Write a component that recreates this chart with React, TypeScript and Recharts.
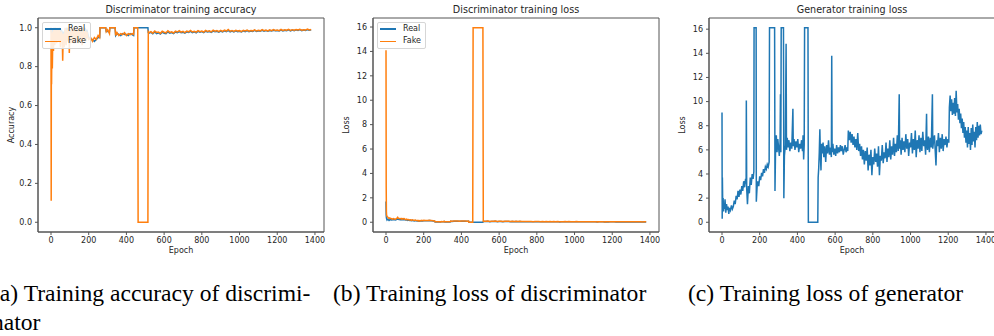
import React from 'react';
import { LineChart, Line, XAxis, YAxis, Legend, ReferenceArea } from 'recharts';

// ---- discriminator data (shared epochs for accuracy + loss) ----
const DISC_EPOCHS = [
  0, 1, 2, 3, 5, 7, 10, 13, 16, 20,
  25, 30, 35, 40, 45, 50, 55, 60, 62, 65,
  70, 75, 80, 85, 90, 95, 97, 100, 105, 110,
  115, 120, 125, 130, 135, 140, 145, 150, 155, 160,
  165, 170, 175, 180, 185, 190, 195, 200, 210, 220,
  230, 240, 250, 258, 260, 270, 280, 290, 293, 300,
  310, 312, 320, 330, 340, 343, 350, 360, 370, 380,
  390, 400, 410, 420, 430, 438, 440, 450, 460, 462,
  470, 480, 490, 500, 510, 514, 516,
  520, 530, 540, 550, 560, 570, 580, 590, 600, 610,
  620, 630, 640, 650, 660, 670, 680, 690, 700, 710,
  720, 730, 740, 750, 760, 770, 780, 790, 800, 810,
  820, 830, 840, 850, 860, 870, 880, 890, 900, 910,
  920, 930, 940, 950, 960, 970, 980, 990, 1000, 1010,
  1020, 1030, 1040, 1050, 1060, 1070, 1080, 1090, 1100, 1110,
  1120, 1130, 1140, 1150, 1160, 1170, 1180, 1190, 1200, 1210,
  1220, 1230, 1240, 1250, 1260, 1270, 1280, 1290, 1300, 1310,
  1320, 1330, 1340, 1350, 1360, 1370, 1380,
];

const ACC_FAKE = [
  1.0, 0.11, 0.95, 0.71, 0.97, 0.79, 0.98, 0.88, 1.0, 0.91,
  0.99, 0.92, 1.0, 0.93, 0.99, 0.9, 0.98, 0.93, 0.83, 0.97,
  0.9, 1.0, 0.91, 0.99, 0.93, 1.0, 0.87, 0.98, 0.92, 1.0,
  0.93, 0.99, 0.92, 1.0, 0.94, 0.99, 0.92, 1.0, 0.93, 0.98,
  0.91, 1.0, 0.94, 0.99, 0.93, 0.98, 0.95, 0.94, 0.95, 0.93,
  0.95, 0.94, 0.96, 0.95, 1.0, 1.0, 1.0, 1.0, 0.98, 0.99,
  0.97, 1.0, 1.0, 1.0, 1.0, 0.96, 0.975, 0.96, 0.97, 0.965,
  0.975, 0.96, 0.97, 0.965, 0.97, 0.965, 1.0, 1.0, 1.0, 0.0,
  0.0, 0.0, 0.0, 0.0, 0.0, 0.0, 0.98,
  0.975, 0.98, 0.972, 0.983, 0.976, 0.978, 0.971, 0.982, 0.977, 0.974,
  0.984, 0.976, 0.979, 0.973, 0.982, 0.978, 0.985, 0.977, 0.981, 0.975,
  0.983, 0.979, 0.986, 0.978, 0.982, 0.977, 0.985, 0.98, 0.983, 0.978,
  0.986, 0.981, 0.984, 0.979, 0.987, 0.982, 0.985, 0.98, 0.986, 0.981,
  0.988, 0.983, 0.991, 0.982, 0.986, 0.981, 0.987, 0.983, 0.985, 0.98,
  0.987, 0.983, 0.988, 0.982, 0.986, 0.984, 0.989, 0.983, 0.987, 0.984,
  0.99, 0.985, 0.988, 0.984, 0.989, 0.985, 0.99, 0.986, 0.988, 0.985,
  0.991, 0.986, 0.989, 0.987, 0.992, 0.986, 0.99, 0.987, 0.991, 0.988,
  0.992, 0.987, 0.99, 0.988, 0.993, 0.989, 0.991,
];

const ACC_REAL = [
  1.0, 0.98, 0.99, 0.97, 0.99, 0.95, 0.99, 0.96, 1.0, 0.97,
  1.0, 0.96, 0.99, 0.97, 1.0, 0.96, 0.99, 0.97, 0.95, 0.98,
  0.96, 0.99, 0.97, 1.0, 0.96, 0.99, 0.95, 0.99, 0.97, 1.0,
  0.97, 0.99, 0.96, 0.99, 0.97, 1.0, 0.96, 0.99, 0.97, 0.99,
  0.96, 0.99, 0.97, 1.0, 0.96, 0.99, 0.97, 0.95, 0.94, 0.94,
  0.93, 0.94, 0.95, 0.95, 1.0, 1.0, 1.0, 1.0, 0.98, 0.98,
  0.98, 1.0, 1.0, 1.0, 1.0, 0.96, 0.97, 0.965, 0.96, 0.97,
  0.965, 0.965, 0.96, 0.97, 0.965, 0.96, 1.0, 1.0, 1.0, 1.0,
  1.0, 1.0, 1.0, 1.0, 1.0, 1.0, 0.975,
  0.972, 0.976, 0.969, 0.978, 0.97, 0.974, 0.968, 0.977, 0.972, 0.97,
  0.979, 0.972, 0.975, 0.97, 0.978, 0.974, 0.98, 0.974, 0.977, 0.972,
  0.979, 0.976, 0.981, 0.975, 0.979, 0.974, 0.981, 0.977, 0.98, 0.975,
  0.982, 0.978, 0.981, 0.976, 0.983, 0.979, 0.982, 0.977, 0.983, 0.978,
  0.984, 0.98, 0.986, 0.979, 0.983, 0.979, 0.984, 0.98, 0.982, 0.978,
  0.984, 0.98, 0.985, 0.98, 0.983, 0.981, 0.986, 0.981, 0.984, 0.982,
  0.987, 0.982, 0.985, 0.982, 0.986, 0.983, 0.987, 0.984, 0.986, 0.983,
  0.988, 0.984, 0.987, 0.985, 0.989, 0.984, 0.988, 0.985, 0.989, 0.986,
  0.99, 0.985, 0.988, 0.986, 0.99, 0.987, 0.989,
];

const LOSS_FAKE = [
  14.1, 3.0, 0.9, 0.6, 0.5, 0.45, 0.4, 0.35, 0.3, 0.35,
  0.3, 0.28, 0.25, 0.3, 0.27, 0.25, 0.3, 0.35, 0.4, 0.33,
  0.3, 0.28, 0.32, 0.25, 0.3, 0.28, 0.3, 0.26, 0.22, 0.25,
  0.2, 0.22, 0.18, 0.2, 0.15, 0.2, 0.17, 0.14, 0.18, 0.15,
  0.12, 0.16, 0.1, 0.14, 0.12, 0.15, 0.13, 0.16, 0.14, 0.15,
  0.16, 0.14, 0.12, 0.1, 0.03, 0.03, 0.04, 0.03, 0.06, 0.05,
  0.07, 0.03, 0.03, 0.03, 0.03, 0.1, 0.09, 0.11, 0.1, 0.11,
  0.09, 0.1, 0.11, 0.1, 0.09, 0.1, 0.0, 0.0, 0.0, 15.95,
  15.95, 15.95, 15.95, 15.95, 15.95, 15.95, 0.08,
  0.09, 0.08, 0.1, 0.07, 0.09, 0.08, 0.1, 0.07, 0.08, 0.09,
  0.07, 0.08, 0.09, 0.08, 0.07, 0.08, 0.06, 0.08, 0.07, 0.08,
  0.06, 0.07, 0.06, 0.07, 0.06, 0.07, 0.05, 0.06, 0.06, 0.07,
  0.05, 0.06, 0.05, 0.06, 0.05, 0.06, 0.05, 0.06, 0.05, 0.06,
  0.04, 0.05, 0.04, 0.06, 0.05, 0.06, 0.04, 0.05, 0.05, 0.06,
  0.04, 0.05, 0.04, 0.05, 0.05, 0.04, 0.04, 0.05, 0.04, 0.05,
  0.03, 0.04, 0.04, 0.05, 0.03, 0.04, 0.03, 0.04, 0.04, 0.04,
  0.03, 0.04, 0.03, 0.04, 0.03, 0.04, 0.03, 0.03, 0.03, 0.04,
  0.03, 0.03, 0.03, 0.03, 0.02, 0.03, 0.03,
];

const LOSS_REAL = [
  1.7, 0.6, 0.4, 0.3, 0.2, 0.25, 0.2, 0.2, 0.15, 0.2,
  0.2, 0.18, 0.2, 0.22, 0.2, 0.18, 0.22, 0.25, 0.28, 0.24,
  0.22, 0.2, 0.23, 0.2, 0.22, 0.2, 0.22, 0.2, 0.18, 0.2,
  0.15, 0.18, 0.14, 0.16, 0.12, 0.15, 0.13, 0.1, 0.14, 0.12,
  0.1, 0.12, 0.08, 0.1, 0.1, 0.12, 0.1, 0.12, 0.12, 0.13,
  0.14, 0.12, 0.1, 0.08, 0.02, 0.02, 0.02, 0.02, 0.04, 0.04,
  0.05, 0.02, 0.02, 0.02, 0.02, 0.08, 0.07, 0.09, 0.08, 0.09,
  0.08, 0.08, 0.09, 0.08, 0.08, 0.08, 0.0, 0.0, 0.0, 0.0,
  0.0, 0.0, 0.0, 0.0, 0.0, 0.0, 0.06,
  0.07, 0.06, 0.08, 0.05, 0.07, 0.06, 0.08, 0.05, 0.06, 0.07,
  0.05, 0.06, 0.07, 0.06, 0.05, 0.06, 0.05, 0.06, 0.05, 0.06,
  0.05, 0.05, 0.04, 0.05, 0.05, 0.05, 0.04, 0.05, 0.04, 0.05,
  0.04, 0.05, 0.04, 0.04, 0.04, 0.05, 0.04, 0.04, 0.04, 0.05,
  0.03, 0.04, 0.03, 0.04, 0.04, 0.04, 0.03, 0.04, 0.04, 0.04,
  0.03, 0.04, 0.03, 0.04, 0.04, 0.03, 0.03, 0.04, 0.03, 0.04,
  0.02, 0.03, 0.03, 0.04, 0.02, 0.03, 0.02, 0.03, 0.03, 0.03,
  0.02, 0.03, 0.02, 0.03, 0.02, 0.03, 0.02, 0.02, 0.02, 0.03,
  0.02, 0.02, 0.02, 0.02, 0.02, 0.02, 0.02,
];

// ---- generator data ----
const GEN_EPOCHS = [
  0, 1, 2, 4, 6, 8, 10, 13, 16, 20,
  24, 28, 32, 36, 40, 45, 50, 55, 60, 65,
  70, 75, 80, 85, 90, 95, 100, 105, 110, 115,
  120, 125, 128, 129, 131, 135, 140, 145, 150, 155,
  160, 165, 169, 170, 181, 182, 186, 190, 195, 200,
  205, 210, 215, 220, 225, 230, 235, 240, 245, 250,
  252, 279, 281, 284, 288, 292, 296, 300, 304, 308,
  310, 312, 314, 326, 328, 331, 336, 340, 342, 346,
  350, 355, 360, 365, 370, 376, 378, 382, 387, 392,
  397, 402, 407, 412, 417, 422, 427, 430, 433, 436,
  438, 456, 458, 508, 510, 513, 516, 519, 522, 525,
  528, 532, 536, 540, 545, 550, 555, 560, 565, 570,
  575, 580, 582, 584, 588, 593, 598, 603, 608, 613,
  618, 623, 628, 633, 638, 643, 648, 653, 658, 663,
  667, 670, 675, 680, 685, 690, 695, 700, 705, 710,
  715, 720, 725, 730, 735, 740, 745, 750, 755, 760,
  765, 770, 775, 780, 785, 790, 795, 800, 805, 810,
  815, 820, 825, 830, 835, 840, 845, 850, 855, 860,
  865, 870, 875, 880, 885, 890, 895, 900, 905, 910,
  915, 920, 925, 930, 935, 940, 942, 946, 950, 955,
  960, 965, 970, 975, 980, 985, 990, 995, 1000, 1005,
  1010, 1015, 1020, 1025, 1030, 1035, 1040, 1045, 1050, 1055,
  1060, 1065, 1070, 1075, 1080, 1085, 1087, 1090, 1095, 1100,
  1105, 1110, 1116, 1118, 1123, 1127, 1131, 1135, 1139, 1143,
  1148, 1153, 1158, 1163, 1168, 1173, 1178, 1183, 1188, 1193,
  1198, 1203, 1206, 1210, 1214, 1218, 1222, 1226, 1230, 1234,
  1238, 1242, 1246, 1250, 1254, 1258, 1262, 1266, 1270, 1274,
  1278, 1282, 1286, 1290, 1294, 1298, 1302, 1306, 1310, 1314,
  1318, 1322, 1326, 1330, 1334, 1338, 1342, 1346, 1350, 1354,
  1358, 1362, 1366, 1370, 1374, 1378,
];

const GEN_LOSS = [
  9.1, 0.3, 3.7, 1.2, 2.0, 0.9, 1.6, 1.1, 1.9, 0.8,
  1.5, 1.0, 1.3, 0.7, 1.2, 1.0, 1.4, 1.1, 1.3, 1.8,
  1.5, 2.2, 1.9, 2.6, 2.1, 2.7, 2.3, 3.0, 2.6, 3.4,
  2.9, 3.6, 3.2, 10.1, 2.8, 1.5, 3.0, 2.4, 3.7, 3.1,
  4.0, 3.6, 4.2, 16.12, 16.12, 1.7, 2.9, 3.4, 3.0, 3.8,
  3.5, 4.1, 3.8, 4.4, 4.1, 4.6, 4.4, 4.8, 4.6, 5.0,
  16.12, 16.12, 2.6, 6.0, 7.2, 5.8, 6.9, 6.2, 5.5, 6.6,
  10.6, 5.8, 16.12, 16.12, 2.0, 5.5, 6.4, 14.8, 6.0, 7.0,
  6.2, 6.8, 5.9, 6.6, 6.1, 9.4, 6.3, 6.9, 6.0, 6.7,
  6.2, 6.9, 5.8, 6.5, 6.1, 6.8, 5.9, 7.2, 5.2, 6.4,
  16.12, 16.12, 0, 0, 3.7, 4.5, 5.8, 7.7, 5.5, 4.3,
  6.5, 5.7, 6.6, 5.4, 6.3, 5.0, 6.4, 5.7, 6.8, 5.6,
  6.2, 5.4, 13.8, 5.8, 6.5, 5.6, 6.1, 5.5, 6.4, 5.7,
  6.2, 5.8, 6.4, 5.9, 6.3, 5.6, 6.0, 6.4, 5.8, 6.2,
  5.9, 7.6, 6.8, 7.5, 6.6, 7.3, 6.4, 7.1, 6.2, 6.9,
  6.0, 7.4, 5.9, 6.5, 5.5, 6.3, 5.2, 6.0, 4.8, 5.9,
  5.1, 6.2, 4.3, 5.6, 4.7, 6.0, 3.9, 5.4, 4.8, 6.1,
  5.0, 5.7, 4.6, 6.3, 3.9, 5.5, 5.1, 6.4, 4.9, 5.8,
  5.3, 6.6, 5.0, 6.1, 5.4, 6.8, 5.2, 6.3, 5.6, 7.0,
  5.5, 6.5, 5.8, 7.2, 5.9, 10.6, 6.1, 6.8, 5.6, 7.0,
  6.0, 6.7, 5.8, 7.3, 6.1, 6.9, 5.5, 6.6, 6.2, 7.4,
  5.7, 6.9, 6.0, 7.6, 5.4, 6.8, 6.1, 7.2, 5.8, 7.0,
  5.9, 7.5, 6.3, 6.8, 5.6, 9.0, 6.4, 6.0, 7.1, 5.8,
  7.0, 6.2, 10.6, 6.1, 6.9, 7.2, 5.9, 4.7, 6.8, 6.3,
  7.4, 5.8, 7.0, 6.1, 7.3, 5.9, 6.9, 6.4, 7.1, 6.2,
  6.9, 6.6, 9.5, 10.5, 9.2, 10.2, 8.9, 9.9, 9.0, 10.3,
  8.8, 10.9, 9.1, 9.8, 8.5, 9.4, 8.2, 9.0, 7.8, 8.6,
  7.4, 8.3, 7.0, 7.9, 6.6, 7.6, 6.2, 7.9, 6.5, 7.4,
  6.0, 7.8, 6.4, 8.1, 6.7, 7.5, 6.2, 7.9, 6.8, 8.3,
  7.0, 8.0, 7.2, 8.1, 7.3, 7.6,
];

const EPOCH_TICKS = [0, 200, 400, 600, 800, 1000, 1200, 1400];
const ACC_TICKS = [0, 0.2, 0.4, 0.6, 0.8, 1.0];
const LOSS_TICKS = [0, 2, 4, 6, 8, 10, 12, 14, 16];
const SERIES_NAMES = ['Real', 'Fake'];
const CAPTIONS = [
  '(a) Training accuracy of discrimi-',
  'nator',
  '(b) Training loss of discriminator',
  '(c) Training loss of generator',
];

const BLUE = '#1f77b4';
const ORANGE = '#ff7f0e';
const AXIS = '#555';
const TXT = '#262626';
const X_DOMAIN: [number, number] = [-69, 1448];

const accData = DISC_EPOCHS.map((epoch, i) => ({ epoch, real: ACC_REAL[i], fake: ACC_FAKE[i] }));
const lossData = DISC_EPOCHS.map((epoch, i) => ({ epoch, real: LOSS_REAL[i], fake: LOSS_FAKE[i] }));
const genData = GEN_EPOCHS.map((epoch, i) => ({ epoch, loss: GEN_LOSS[i] }));

const tickStyle = { fontFamily: 'DejaVu Sans', fontSize: 8, fill: TXT };

const LegendBox = () => (
  <div
    style={{
      border: '1px solid #d6d6d6',
      borderRadius: 2,
      background: 'rgba(255,255,255,0.85)',
      padding: '0 4px 0 2px',
      fontFamily: 'DejaVu Sans',
      fontSize: 8,
      lineHeight: '12.3px',
      color: TXT,
    }}
  >
    {SERIES_NAMES.map((name, i) => (
      <div key={name} style={{ display: 'flex', alignItems: 'center' }}>
        <span style={{ display: 'inline-block', width: 16, height: 1.5, background: i === 0 ? BLUE : ORANGE, marginRight: 7 }} />
        {name}
      </div>
    ))}
  </div>
);

interface PanelProps {
  left: number;
  title: string;
  ylabel: string;
  data: any[];
  yDomain: [number, number];
  yTicks: number[];
  yFmt: (v: number) => string;
  keys: string[];
  legend?: boolean;
}

const Panel: React.FC<PanelProps> = ({ left, title, ylabel, data, yDomain, yTicks, yFmt, keys, legend }) => (
  <div style={{ position: 'absolute', left, top: 0, width: 330, height: 260 }}>
    <div
      style={{
        position: 'absolute', left: 38, width: 286, top: 4, textAlign: 'center',
        fontFamily: 'DejaVu Sans', fontSize: 9.6, lineHeight: '12px', color: TXT, whiteSpace: 'nowrap',
      }}
    >
      {title}
    </div>
    <LineChart width={330} height={260} data={data} margin={{ top: 18, right: 6, left: 0, bottom: 0 }}>
      <XAxis
        dataKey="epoch"
        type="number"
        domain={X_DOMAIN}
        allowDataOverflow
        ticks={EPOCH_TICKS}
        interval={0}
        height={28}
        tickSize={3}
        tickMargin={2}
        tick={tickStyle}
        stroke={AXIS}
      />
      <YAxis
        type="number"
        domain={yDomain}
        allowDataOverflow
        ticks={yTicks}
        interval={0}
        width={38}
        tickSize={3}
        tickMargin={3}
        tick={tickStyle}
        tickFormatter={yFmt}
        stroke={AXIS}
      />
      <ReferenceArea
        x1={X_DOMAIN[0]}
        x2={X_DOMAIN[1]}
        y1={yDomain[0]}
        y2={yDomain[1]}
        fill="none"
        stroke={AXIS}
        strokeWidth={1}
        ifOverflow="visible"
      />
      {keys.map((k, i) => (
        <Line
          key={k}
          dataKey={k}
          type="linear"
          stroke={i === 0 ? BLUE : ORANGE}
          strokeWidth={1.5}
          dot={false}
          activeDot={false}
          isAnimationActive={false}
        />
      ))}
      {legend && (
        <Legend
          layout="vertical"
          align="center"
          verticalAlign="middle"
          content={<LegendBox />}
          wrapperStyle={{ left: 42, top: 22, width: 'auto' }}
        />
      )}
    </LineChart>
    <div
      style={{
        position: 'absolute', left: 0, width: 330, top: 246, paddingLeft: 38, boxSizing: 'border-box',
        textAlign: 'center', fontFamily: 'DejaVu Sans', fontSize: 8, lineHeight: '10px', color: TXT,
      }}
    >
      <div style={{ width: 286 }}>Epoch</div>
    </div>
    <div
      style={{
        position: 'absolute', left: 12, top: 125, transform: 'translate(-50%, -50%) rotate(-90deg)',
        fontFamily: 'DejaVu Sans', fontSize: 8, lineHeight: '10px', color: TXT, whiteSpace: 'nowrap',
      }}
    >
      {ylabel}
    </div>
  </div>
);

const captionStyle: React.CSSProperties = {
  position: 'absolute',
  fontFamily: '"Liberation Serif", "Times New Roman", serif',
  fontSize: 23.6,
  lineHeight: '29px',
  color: '#000',
  whiteSpace: 'nowrap',
};

export default function App() {
  return (
    <div style={{ position: 'absolute', left: 0, top: 0, width: 994, height: 336, overflow: 'hidden', background: '#fff' }}>
      <Panel
        left={0}
        title="Discriminator training accuracy"
        ylabel="Accuracy"
        data={accData}
        yDomain={[-0.05, 1.05]}
        yTicks={ACC_TICKS}
        yFmt={(v) => v.toFixed(1)}
        keys={['real', 'fake']}
        legend
      />
      <Panel
        left={335}
        title="Discriminator training loss"
        ylabel="Loss"
        data={lossData}
        yDomain={[-0.8, 16.74]}
        yTicks={LOSS_TICKS}
        yFmt={(v) => String(v)}
        keys={['real', 'fake']}
        legend
      />
      <Panel
        left={671}
        title="Generator training loss"
        ylabel="Loss"
        data={genData}
        yDomain={[-0.806, 16.926]}
        yTicks={LOSS_TICKS}
        yFmt={(v) => String(v)}
        keys={['loss']}
      />
      <div style={{ ...captionStyle, left: -8, top: 279 }}>
        {CAPTIONS[0]}
        <br />
        {CAPTIONS[1]}
      </div>
      <div style={{ ...captionStyle, left: 333, top: 279 }}>{CAPTIONS[2]}</div>
      <div style={{ ...captionStyle, left: 688, top: 279 }}>{CAPTIONS[3]}</div>
    </div>
  );
}
